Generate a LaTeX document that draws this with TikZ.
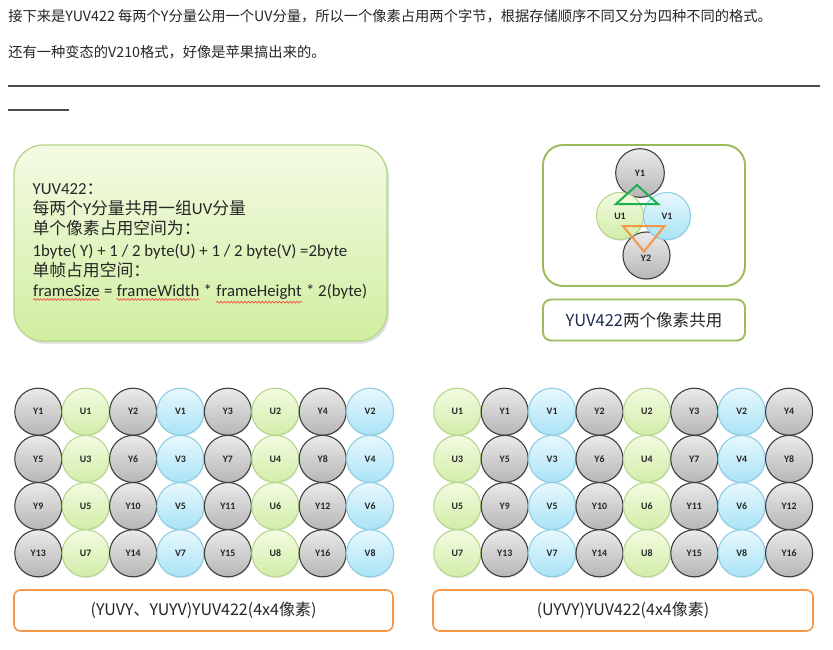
\documentclass[tikz,border=0pt]{standalone}
\usepackage{fontspec}
\setmainfont{Carlito}
\newfontfamily\cjk{Noto Sans CJK SC}
\usetikzlibrary{shadows,decorations.pathmorphing}

\definecolor{ybord}{HTML}{3C3C3C}
\definecolor{ytop}{HTML}{EAEAEA}
\definecolor{ybot}{HTML}{B6B6B6}
\definecolor{ubord}{HTML}{B5D68A}
\definecolor{utop}{HTML}{F3FBE2}
\definecolor{ubot}{HTML}{D2EDA8}
\definecolor{vbord}{HTML}{8CCDE4}
\definecolor{vtop}{HTML}{E8F8FD}
\definecolor{vbot}{HTML}{A9E3F6}
\definecolor{notetop}{HTML}{F4FBE4}
\definecolor{notebot}{HTML}{D0EEA0}
\definecolor{notebord}{HTML}{B6D78A}
\definecolor{panelbord}{HTML}{9BBB59}
\definecolor{tagbord}{HTML}{F59648}
\definecolor{trigreen}{HTML}{1DAF4E}
\definecolor{ink}{HTML}{262626}
\definecolor{navy}{HTML}{1F2D4F}

% 拼写检查波浪线
\newcommand\redwave[1]{\tikz[baseline=(word.base), x=1pt, y=1pt]{%
  \node[inner sep=0pt] (word) {#1};
  \draw[red!85, line width=0.4pt, decorate, decoration={snake, amplitude=0.7pt, segment length=2.6pt}]
    ([yshift=-2.2pt]word.south west) -- ([yshift=-2.2pt]word.south east);}}

\tikzset{
  pix/.style={circle, minimum size=35.3pt, inner sep=0pt, line width=0.8pt,
    font=\bfseries\fontsize{7.4}{8}\selectfont, text=ink,
    drop shadow={opacity=0.18, shadow xshift=0.4pt, shadow yshift=-1pt}},
  ypix/.style={pix, draw=ybord, top color=ytop, bottom color=ybot},
  upix/.style={pix, draw=ubord, top color=utop, bottom color=ubot},
  vpix/.style={pix, draw=vbord, top color=vtop, bottom color=vbot},
  tagbox/.style={draw=tagbord, line width=1.2pt, rounded corners=5pt, fill=white,
    minimum height=30.75pt, font=\cjk\fontsize{12}{13}\selectfont, text=ink},
  panel/.style={draw=panelbord, line width=1.4pt, fill=white}
}

\begin{document}
\begin{tikzpicture}[x=0.75pt, y=-0.75pt]
  \path[fill=white] (0,0) rectangle (833,650);
  \useasboundingbox (0,0) rectangle (833,650);

  % 说明文字
  \node[anchor=west, inner sep=0pt, text=ink, font=\cjk\fontsize{10.7}{12}\selectfont] (intro) at (8,16)
    {接下来是YUV422 每两个Y分量公用一个UV分量，所以一个像素占用两个字节，根据存储顺序不同又分为四种不同的格式。};
  \node[anchor=west, inner sep=0pt, text=ink, font=\cjk\fontsize{10.7}{12}\selectfont] (intro2) at (8,52)
    {还有一种变态的V210格式，好像是苹果搞出来的。};
  \draw[black!70, line width=0.8pt] (8,86) -- (820,86);
  \draw[black!70, line width=0.8pt] (8,110) -- (69,110);

  % 绿色说明框
  \node[draw=notebord, line width=1pt, rounded corners=22pt, top color=notetop, bottom color=notebot,
    minimum width=279.75pt, minimum height=147pt,
    drop shadow={opacity=0.25, shadow xshift=1.5pt, shadow yshift=-2pt}] (note) at (200.5,243) {};
  \node[anchor=west, inner sep=0pt, align=left, text=ink, font=\fontsize{12.6}{15}\selectfont]
    (notetext) at ([xshift=14.25pt, yshift=-0.5pt]note.west)
    {YUV422{\cjk：}\\
     {\cjk 每两个}Y{\cjk 分量共用一组}UV{\cjk 分量}\\
     {\cjk 单个像素占用空间为：}\\[1pt]
     1byte( Y) + 1 / 2 byte(U) + 1 / 2 byte(V) =2byte\\
     {\cjk 单帧占用空间：}\\
     \redwave{frameSize} = \redwave{frameWidth} * \redwave{frameHeight} * 2(byte)};

  % 两个像素共用
  \node[panel, rounded corners=15pt, minimum width=151.5pt, minimum height=105.75pt] (share) at (644,215.5) {};
  \node[ypix, minimum size=36.5pt] (sy1) at (640,173) {Y1};
  \node[ypix] (sy2) at (646.5,255.5) {};
  \node[upix] (su1) at (620,216) {U1};
  \node[vpix] (sv1) at (667,216) {V1};
  \node[font=\bfseries\fontsize{7.4}{8}\selectfont, text=ink] (sy2lab) at (646,258) {Y2};
  \draw[color=trigreen, line width=1.5pt] (637,185) -- (616,204) -- (658,204) -- cycle;
  \draw[color=tagbord, line width=1.5pt] (623,226) -- (664.5,226) -- (644,251.5) -- cycle;
  \node[panel, rounded corners=6pt, minimum width=151.5pt, minimum height=30.75pt,
    font=\cjk\fontsize{12.4}{13}\selectfont, text=ink] (sharetag) at (644,320) {\textcolor{navy}{YUV422}两个像素共用};

  % YUYV 排列
  \foreach \r in {0,...,3}{
    \pgfmathtruncatemacro\ya{4*\r+1}
    \pgfmathtruncatemacro\yb{4*\r+2}
    \pgfmathtruncatemacro\yc{4*\r+3}
    \pgfmathtruncatemacro\yd{4*\r+4}
    \pgfmathtruncatemacro\ua{2*\r+1}
    \pgfmathtruncatemacro\ub{2*\r+2}
    \foreach \c/\kind/\lab in {0/ypix/Y\ya,1/upix/U\ua,2/ypix/Y\yb,3/vpix/V\ua,4/ypix/Y\yc,5/upix/U\ub,6/ypix/Y\yd,7/vpix/V\ub}
      \node[\kind] (yuyv-\r-\c) at (38.3+47.4*\c, 411.7+47.2*\r) {\lab};
  }
  % UYVY 排列
  \foreach \r in {0,...,3}{
    \pgfmathtruncatemacro\ya{4*\r+1}
    \pgfmathtruncatemacro\yb{4*\r+2}
    \pgfmathtruncatemacro\yc{4*\r+3}
    \pgfmathtruncatemacro\yd{4*\r+4}
    \pgfmathtruncatemacro\ua{2*\r+1}
    \pgfmathtruncatemacro\ub{2*\r+2}
    \foreach \c/\kind/\lab in {0/upix/U\ua,1/ypix/Y\ya,2/vpix/V\ua,3/ypix/Y\yb,4/upix/U\ub,5/ypix/Y\yc,6/vpix/V\ub,7/ypix/Y\yd}
      \node[\kind] (uyvy-\r-\c) at (457.3+47.4*\c, 411.7+47.2*\r) {\lab};
  }

  % 标题框
  \node[tagbox, minimum width=284.25pt] (ltag) at (203.5,610.5) {(YUVY、YUYV)YUV422(4x4像素)};
  \node[tagbox, minimum width=285pt] (rtag) at (623,610.5) {(UYVY)YUV422(4x4像素)};
\end{tikzpicture}
\end{document}
